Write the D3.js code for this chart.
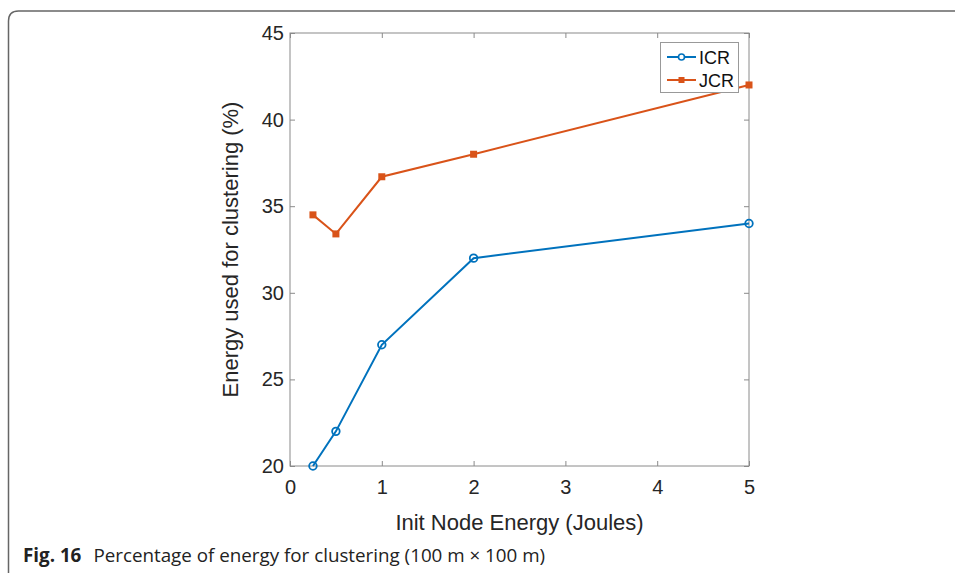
<!DOCTYPE html>
<html><head><meta charset="utf-8">
<script src="https://cdn.jsdelivr.net/npm/d3@7"></script>
<style>body{margin:0;background:#fff}svg{display:block}</style>
</head><body>
<script>
const xValues = [0.25, 0.5, 1, 2, 5];
const icrValues = [20, 22, 27, 32, 34];
const jcrValues = [34.5, 33.4, 36.7, 38, 42];
const seriesNames = ["ICR", "JCR"];
const xTicks = [0, 1, 2, 3, 4, 5];
const yTicks = [20, 25, 30, 35, 40, 45];

const W = 955, H = 573;
const svg = d3.select("body").append("svg").attr("width", W).attr("height", H);

// outer frame
svg.append("path")
  .attr("d", "M8.5,573 L8.5,21 Q8.5,11 18.5,11 L955,11")
  .attr("fill", "none").attr("stroke", "#666").attr("stroke-width", 1.5);

const L = 290, R = 749, T = 33, B = 466;
const x = d3.scaleLinear().domain([0, 5]).range([L, R]);
const y = d3.scaleLinear().domain([20, 45]).range([B, T]);
const axisCol = "#8a8a8a", textCol = "#262626";
const font = "'Liberation Sans', Arial, Helvetica, sans-serif";

// box
svg.append("rect").attr("x", L).attr("y", T).attr("width", R - L).attr("height", B - T)
  .attr("fill", "none").attr("stroke", axisCol).attr("stroke-width", 1);

function styleAxis(g) {
  g.select(".domain").remove();
  g.selectAll(".tick line").attr("stroke", axisCol);
  g.selectAll(".tick text").attr("fill", textCol).style("font-family", font).style("font-size", "20px");
}
svg.append("g").attr("transform", `translate(0,${B})`)
  .call(d3.axisBottom(x).tickValues(xTicks).tickFormat(d3.format("d")).tickSizeInner(-5).tickSizeOuter(0).tickPadding(14))
  .call(styleAxis);
svg.append("g").attr("transform", `translate(0,${T})`)
  .call(d3.axisTop(x).tickValues(xTicks).tickFormat("").tickSizeInner(-5).tickSizeOuter(0))
  .call(styleAxis);
svg.append("g").attr("transform", `translate(${L},0)`)
  .call(d3.axisLeft(y).tickValues(yTicks).tickFormat(d3.format("d")).tickSizeInner(-5).tickSizeOuter(0).tickPadding(6))
  .call(styleAxis);
svg.append("g").attr("transform", `translate(${R},0)`)
  .call(d3.axisRight(y).tickValues(yTicks).tickFormat("").tickSizeInner(-5).tickSizeOuter(0))
  .call(styleAxis);

// axis titles
svg.append("text").attr("x", (L + R) / 2).attr("y", 530).attr("text-anchor", "middle")
  .style("font-family", font).style("font-size", "22px").attr("fill", textCol)
  .text("Init Node Energy (Joules)");
svg.append("text").attr("transform", `translate(238,${(T + B) / 2}) rotate(-90)`).attr("text-anchor", "middle")
  .style("font-family", font).style("font-size", "22px").attr("fill", textCol)
  .text("Energy used for clustering (%)");

const colors = ["#0072BD", "#D95319"];
const data = [icrValues, jcrValues];
const line = d3.line().x((d, i) => x(xValues[i])).y(d => y(d));

data.forEach((vals, s) => {
  svg.append("path").datum(vals).attr("d", line)
    .attr("fill", "none").attr("stroke", colors[s]).attr("stroke-width", 2);
});
svg.selectAll(".icr").data(icrValues).enter().append("circle")
  .attr("cx", (d, i) => x(xValues[i])).attr("cy", d => y(d)).attr("r", 3.8)
  .attr("fill", "none").attr("stroke", colors[0]).attr("stroke-width", 1.8);
svg.selectAll(".jcr").data(jcrValues).enter().append("rect")
  .attr("x", (d, i) => x(xValues[i]) - 3.5).attr("y", d => y(d) - 3.5)
  .attr("width", 7).attr("height", 7).attr("fill", colors[1]);

// legend
const lg = svg.append("g");
lg.append("rect").attr("x", 660.5).attr("y", 42.5).attr("width", 78).attr("height", 50)
  .attr("fill", "#fff").attr("stroke", "#999").attr("stroke-width", 1);
seriesNames.forEach((n, i) => {
  const yy = 57 + i * 23;
  lg.append("line").attr("x1", 667).attr("x2", 696).attr("y1", yy).attr("y2", yy)
    .attr("stroke", colors[i]).attr("stroke-width", 2);
  if (i === 0) lg.append("circle").attr("cx", 681.5).attr("cy", yy).attr("r", 3)
    .attr("fill", "#fff").attr("stroke", colors[i]).attr("stroke-width", 1.6);
  else lg.append("rect").attr("x", 678.5).attr("y", yy - 3).attr("width", 6).attr("height", 6).attr("fill", colors[i]);
  lg.append("text").attr("x", 699).attr("y", yy + 6.5).style("font-family", font).style("font-size", "18px")
    .attr("fill", "#111").text(n);
});

// caption
const cap = svg.append("text").attr("x", 23).attr("y", 562)
  .style("font-family", "'Open Sans', 'Noto Sans', sans-serif").style("font-size", "18.8px").attr("fill", "#222");
cap.append("tspan").attr("font-weight", "bold").text("Fig. 16");
cap.append("tspan").attr("dx", 12).text("Percentage of energy for clustering (100 m \u00d7 100 m)");
</script>
</body></html>
